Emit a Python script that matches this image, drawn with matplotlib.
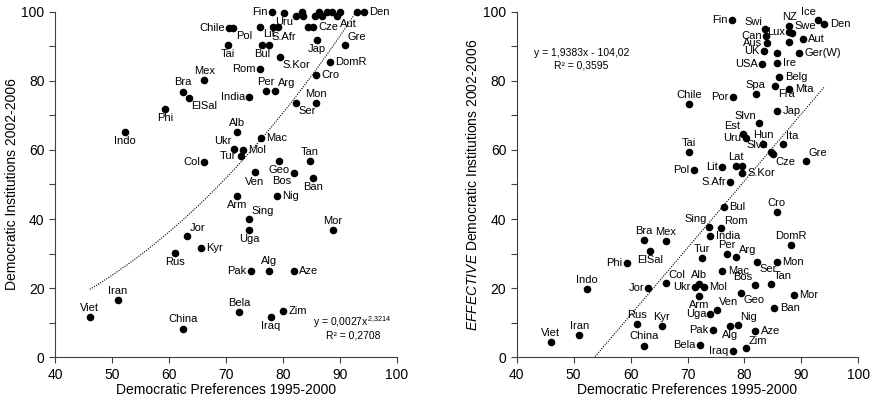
import numpy as np
import matplotlib.pyplot as plt

plt.rcParams['font.family'] = ['Liberation Sans', 'DejaVu Sans']
plt.rcParams['mathtext.fontset'] = 'custom'
plt.rcParams['mathtext.rm'] = 'Liberation Sans'
plt.rcParams['mathtext.it'] = 'Liberation Sans:italic'

# --- data: left panel (democratic institutions) ---
left_names = ['Viet', 'Iran', 'China', 'Rus', 'Jor', 'Kyr', 'Indo', 'Phi', 'ElSal', 'Bra',
              'Mex', 'Tai', 'Chile', 'Pol', 'Lit', 'Bul', 'S.Afr', 'S.Kor', 'Rom', 'Per',
              'Arg', 'India', 'Cro', 'DomR', 'Jap', 'Gre', 'Cze', 'Mon', 'Ser', 'Alb',
              'Ukr', 'Mol', 'Tur', 'Mac', 'Col', 'Geo', 'Tan', 'Bos', 'Ban', 'Ven',
              'Arm', 'Nig', 'Sing', 'Uga', 'Mor', 'Pak', 'Alg', 'Aze', 'Bela', 'Iraq',
              'Zim', 'Fin', 'Uru', 'Den', 'Aut',
              '', '', '', '', '', '', '', '', '', '', '', '', '']
left_x = [46.1, 51.0, 62.4, 61.1, 63.1, 65.6, 52.3, 59.4, 63.5, 62.5,
          66.2, 70.4, 70.6, 71.3, 76.0, 76.3, 77.5, 79.5, 76.0, 77.1,
          78.6, 74.1, 85.8, 88.3, 86.0, 90.9, 85.3, 85.8, 82.3, 71.9,
          71.4, 73.0, 72.6, 76.1, 66.2, 79.4, 84.7, 82.0, 85.3, 75.1,
          72.0, 78.9, 74.0, 74.1, 88.8, 74.4, 77.6, 81.9, 72.3, 77.9,
          80.1, 78.1, 80.2, 94.2, 89.5,
          93.0, 82.4, 83.3, 83.6, 85.7, 86.3, 86.8, 87.7, 88.6, 90.0, 78.3, 79.2, 84.5]
left_y = [11.7, 16.6, 8.3, 30.1, 35.1, 31.7, 65.1, 71.8, 75.1, 76.9,
          80.2, 90.4, 95.2, 95.2, 95.7, 90.4, 90.4, 86.8, 83.4, 77.1,
          77.1, 75.2, 81.7, 85.4, 91.8, 90.4, 95.7, 73.5, 73.5, 65.1,
          60.2, 60.0, 58.3, 63.5, 56.6, 56.8, 56.8, 53.4, 51.8, 53.5,
          46.7, 46.7, 40.0, 36.8, 36.8, 25.1, 25.1, 25.1, 13.2, 11.7,
          13.4, 100.0, 99.7, 100.0, 98.8,
          100.0, 98.8, 99.8, 98.8, 98.8, 99.8, 98.8, 99.8, 99.8, 100.0, 95.7, 95.7, 95.7]

# --- data: right panel (effective democratic institutions) ---
right_names = ['Viet', 'Iran', 'Indo', 'Phi', 'ElSal', 'Bra', 'Mex', 'Jor', 'Col', 'Rus',
               'Kyr', 'China', 'Ukr', 'Alb', 'Mol', 'Arm', 'Tur', 'Per', 'Arg', 'Mac',
               'Ser', 'Mon', 'Bos', 'Tan', 'Mor', 'Geo', 'Ban', 'Ven', 'Uga', 'Nig',
               'Alg', 'Pak', 'Aze', 'Bela', 'Iraq', 'Zim', 'Sing', 'Rom', 'India', 'Bul',
               'Cro', 'DomR', 'S.Afr', 'S.Kor', 'Lat', 'Lit', 'Pol', 'Tai', 'Gre', 'Slvk',
               'Cze', 'Ita', 'Hun', 'Uru', 'Est', 'Slvn', 'Jap', 'Chile', 'Por', 'Spa',
               'Fra', 'Mta', 'Belg', 'USA', 'Ire', 'UK', 'Ger(W)', 'Aus', 'Aut', 'Can',
               'Lux', 'Swe', 'Swi', 'NZ', 'Ice', 'Den', 'Fin', '', '', '']
right_x = [46.0, 51.0, 52.3, 59.3, 63.4, 62.4, 66.2, 63.1, 66.2, 61.1,
           65.5, 62.3, 71.3, 72.1, 72.9, 72.0, 72.5, 76.9, 78.6, 76.1,
           82.2, 85.7, 81.9, 84.6, 88.7, 79.4, 85.2, 75.1, 74.0, 78.8,
           77.5, 74.4, 81.9, 72.2, 77.9, 80.2, 73.8, 75.9, 74.0, 76.4,
           85.7, 88.2, 77.5, 79.5, 78.5, 76.0, 71.1, 70.3, 90.8, 84.6,
           85.0, 86.8, 83.3, 80.2, 79.8, 82.6, 85.8, 70.3, 77.9, 82.0,
           85.4, 87.9, 86.1, 83.0, 85.8, 83.4, 89.5, 83.9, 90.2, 83.8,
           87.9, 88.3, 83.6, 87.9, 93.0, 94.0, 77.8, 79.5, 85.8, 87.9]
right_y = [4.3, 6.4, 19.7, 27.2, 30.8, 33.9, 33.7, 20.1, 21.6, 9.6,
           9.1, 3.4, 20.4, 21.2, 20.4, 17.7, 28.8, 29.9, 28.9, 25.1,
           27.7, 27.7, 20.9, 21.2, 18.0, 18.7, 14.4, 13.7, 12.5, 9.3,
           9.1, 7.9, 7.6, 3.6, 1.8, 2.6, 37.8, 37.3, 35.2, 43.6,
           42.0, 32.5, 50.6, 53.4, 55.4, 55.0, 54.2, 59.3, 56.8, 59.3,
           58.7, 61.7, 61.7, 63.4, 64.6, 67.7, 71.4, 73.3, 75.4, 76.2,
           78.5, 77.5, 81.0, 84.8, 85.1, 88.7, 88.1, 91.0, 92.1, 93.0,
           94.2, 93.7, 94.9, 95.9, 97.6, 96.4, 97.6, 55.4, 88.1, 91.3]

# label placement (a=above, b=below, l=left, r=right)
left_pos = {'Viet': 'a', 'Iran': 'a', 'China': 'a', 'Rus': 'b', 'Jor': 'ar', 'Kyr': 'r',
            'Indo': 'b', 'Phi': 'b', 'ElSal': 'br', 'Bra': 'a', 'Mex': 'a', 'Tai': 'b',
            'Chile': 'l', 'Pol': 'br', 'Lit': 'br', 'Bul': 'b', 'S.Afr': 'ar', 'S.Kor': 'br',
            'Rom': 'l', 'Per': 'a', 'Arg': 'ar', 'India': 'l', 'Cro': 'r', 'DomR': 'r',
            'Jap': 'b', 'Gre': 'ar', 'Cze': 'r', 'Mon': 'a', 'Ser': 'br', 'Alb': 'a',
            'Ukr': 'al', 'Mol': 'r', 'Tur': 'l', 'Mac': 'r', 'Col': 'l', 'Geo': 'b',
            'Tan': 'a', 'Bos': 'bl', 'Ban': 'b', 'Ven': 'b', 'Arm': 'b', 'Nig': 'r',
            'Sing': 'ar', 'Uga': 'b', 'Mor': 'a', 'Pak': 'l', 'Alg': 'a', 'Aze': 'r',
            'Bela': 'a', 'Iraq': 'b', 'Zim': 'r', 'Fin': 'l', 'Uru': 'b', 'Den': 'r',
            'Aut': 'br'}
right_pos = {'Viet': 'a', 'Iran': 'a', 'Indo': 'a', 'Phi': 'l', 'ElSal': 'b', 'Bra': 'a',
             'Mex': 'a', 'Jor': 'l', 'Col': 'ar', 'Rus': 'a', 'Kyr': 'a', 'China': 'a',
             'Ukr': 'l', 'Alb': 'a', 'Mol': 'r', 'Arm': 'b', 'Tur': 'a', 'Per': 'a',
             'Arg': 'ar', 'Mac': 'r', 'Ser': 'br', 'Mon': 'r', 'Bos': 'al', 'Tan': 'ar',
             'Mor': 'r', 'Geo': 'br', 'Ban': 'r', 'Ven': 'ar', 'Uga': 'l', 'Nig': 'ar',
             'Alg': 'b', 'Pak': 'l', 'Aze': 'r', 'Bela': 'l', 'Iraq': 'l', 'Zim': 'ar',
             'Sing': 'al', 'Rom': 'ar', 'India': 'r', 'Bul': 'r', 'Cro': 'a', 'DomR': 'a',
             'S.Afr': 'l', 'S.Kor': 'r', 'Lat': 'a', 'Lit': 'l', 'Pol': 'l', 'Tai': 'a',
             'Gre': 'ar', 'Slvk': 'al', 'Cze': 'br', 'Ita': 'ar', 'Hun': 'a', 'Uru': 'l',
             'Est': 'al', 'Slvn': 'al', 'Jap': 'r', 'Chile': 'a', 'Por': 'l', 'Spa': 'a',
             'Fra': 'br', 'Mta': 'r', 'Belg': 'r', 'USA': 'l', 'Ire': 'r', 'UK': 'l',
             'Ger(W)': 'r', 'Aus': 'l', 'Aut': 'r', 'Can': 'l', 'Lux': 'l', 'Swe': 'ar',
             'Swi': 'al', 'NZ': 'a', 'Ice': 'al', 'Den': 'r', 'Fin': 'l'}

offsets = {'a': (0, 3, 'center', 'bottom'), 'b': (0, -3, 'center', 'top'),
           'l': (-3, 0, 'right', 'center'), 'r': (4, 0, 'left', 'center'),
           'al': (-2, 2, 'right', 'bottom'), 'ar': (2, 2, 'left', 'bottom'),
           'bl': (-2, -2, 'right', 'top'), 'br': (2, -2, 'left', 'top')}


def draw_panel(ax, names, xs, ys, pos):
    ax.scatter(xs, ys, s=30, color='black', zorder=3, clip_on=False, linewidths=0)
    for n, x, y in zip(names, xs, ys):
        if not n:
            continue
        dx, dy, ha, va = offsets[pos.get(n, 'r')]
        ax.annotate(n, (x, y), xytext=(dx, dy), textcoords='offset points',
                    ha=ha, va=va, fontsize=8)
    ax.set_xlim(40, 100)
    ax.set_ylim(0, 100)
    ax.set_xticks(np.arange(40, 101, 10))
    ax.set_yticks(np.arange(0, 101, 20))
    ax.set_yticks(np.arange(10, 100, 20), minor=True)
    ax.tick_params(which='both', direction='out', labelsize=10, width=0.8,
                   color='#404040', length=4)
    for s in ['top', 'right']:
        ax.spines[s].set_visible(False)
    for s in ['left', 'bottom']:
        ax.spines[s].set_linewidth(0.8)
        ax.spines[s].set_color('#404040')
    ax.set_xlabel('Democratic Preferences 1995-2000', fontsize=10, labelpad=1)


fig = plt.figure(figsize=(8.73, 4.09), dpi=100)
ax1 = fig.add_axes([0.0630, 0.1264, 0.3914, 0.845])
ax2 = fig.add_axes([0.5919, 0.1264, 0.3913, 0.845])

draw_panel(ax1, left_names, left_x, left_y, left_pos)
draw_panel(ax2, right_names, right_x, right_y, right_pos)

# trend lines
xa = np.linspace(min(left_x), max(left_x), 200)
ax1.plot(xa, 0.0027 * xa ** 2.3214, color='black', lw=0.8, ls=(0, (1, 1.2)), zorder=2)
xb = np.linspace(min(right_x), max(right_x), 200)
ax2.plot(xb, 1.9383 * xb - 104.02, color='black', lw=0.8, ls=(0, (1, 1.2)), zorder=2)

ax1.text(0.868, 0.103, r'y = 0,0027x$^{2{,}3214}$', transform=ax1.transAxes,
         ha='center', va='center', fontsize=7.5)
ax1.text(0.872, 0.062, 'R² = 0,2708', transform=ax1.transAxes,
         ha='center', va='center', fontsize=7.5)
ax2.text(0.19, 0.880, 'y = 1,9383x - 104,02', transform=ax2.transAxes,
         ha='center', va='center', fontsize=7.5)
ax2.text(0.19, 0.843, 'R² = 0,3595', transform=ax2.transAxes,
         ha='center', va='center', fontsize=7.5)

ax1.set_ylabel('Democratic Institutions 2002-2006', fontsize=10, labelpad=2)
ax2.set_ylabel(r'$\it{EFFECTIVE}$ Democratic Institutions 2002-2006', fontsize=10, labelpad=2)

fig.savefig('out.png', dpi=100)
